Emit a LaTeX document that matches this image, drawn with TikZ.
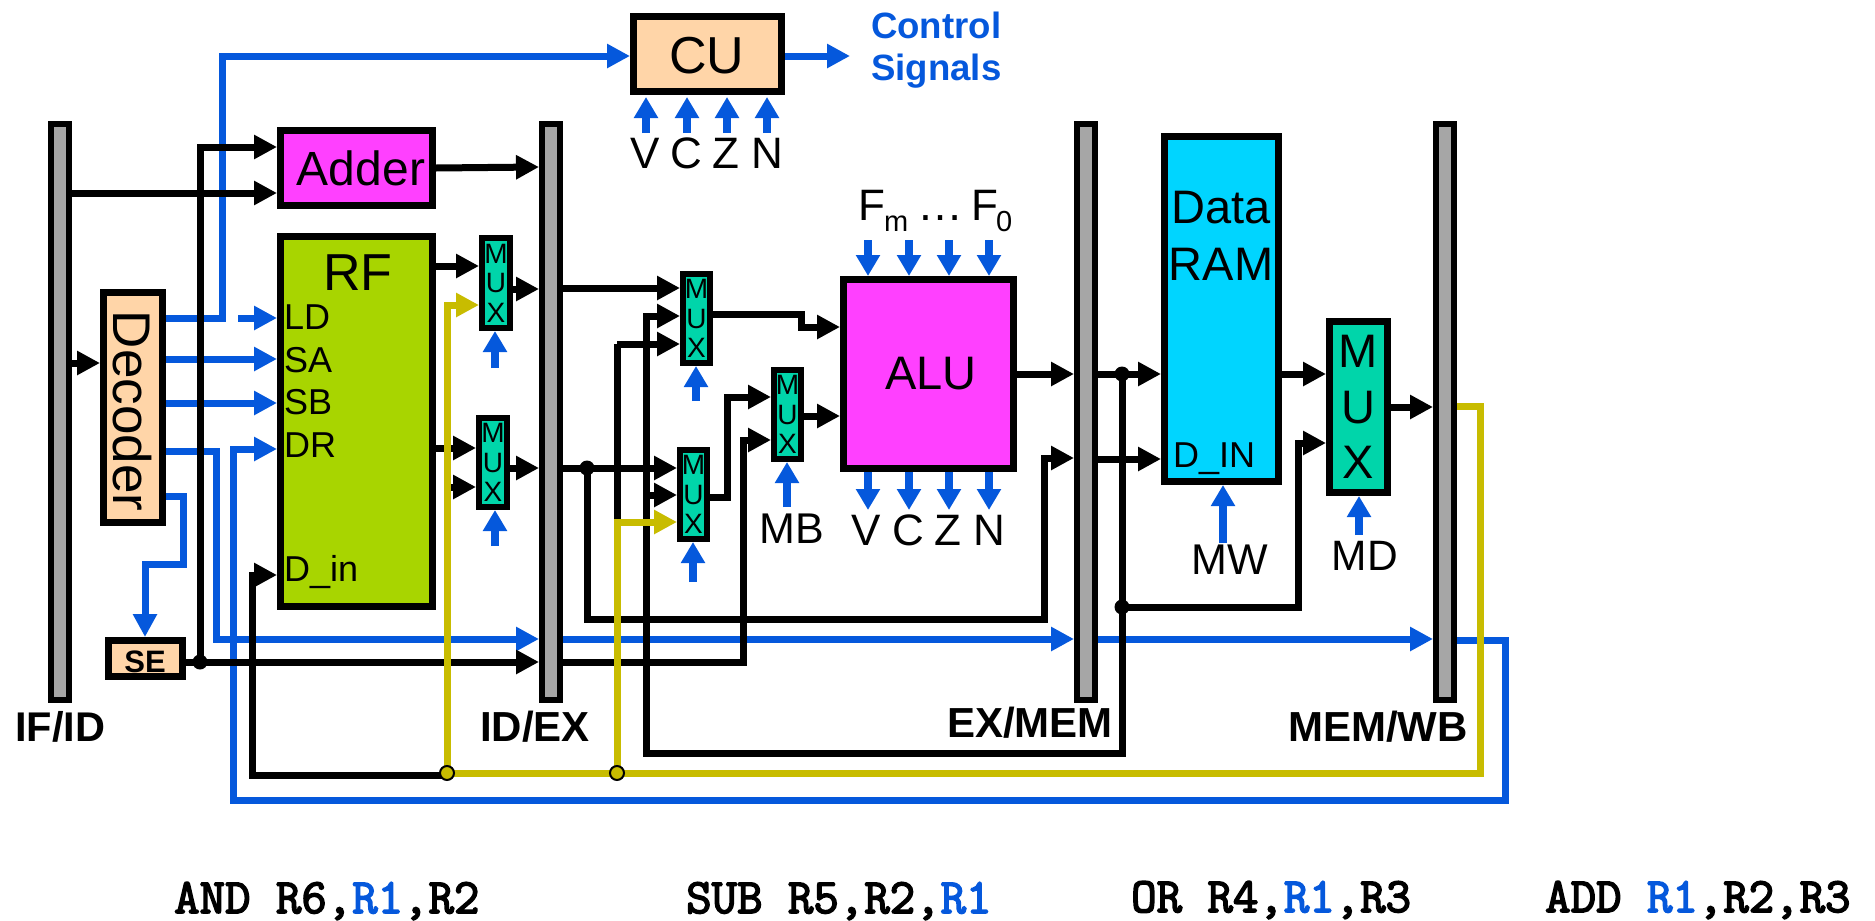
\documentclass[tikz,border=0pt]{standalone}
\usepackage{fontspec}
\setmainfont{Liberation Sans}
\newfontfamily\asmfont[FakeBold=3.2]{Latin Modern Mono}
\usetikzlibrary{arrows.meta}
\definecolor{cblue}{HTML}{0558DC}
\definecolor{cyel}{HTML}{C8BC00}
\definecolor{cpeach}{HTML}{FFD5A8}
\definecolor{cmag}{HTML}{FF40FF}
\definecolor{crf}{HTML}{A8D500}
\definecolor{ccyan}{HTML}{00D5FF}
\definecolor{cteal}{HTML}{00D5AA}
\definecolor{cgray}{HTML}{A6A6A6}
\newcommand{\fs}[1]{\fontsize{#1}{#1}\selectfont}
% name, x1,y1,x2,y2 (outer edges), line width, style, text
\newcommand{\blk}[8]{%
  \pgfmathsetmacro{\bcx}{(#2+#4)/2}\pgfmathsetmacro{\bcy}{(#3+#5)/2}%
  \pgfmathsetmacro{\bbw}{#4-#2-#6}\pgfmathsetmacro{\bbh}{#5-#3-#6}%
  \node[draw=black,line width=#6pt,inner sep=0pt,minimum width=\bbw pt,minimum height=\bbh pt,#7] (#1) at (\bcx,\bcy) {#8};}
% name, x, baseline y, size, text
\newcommand{\lbl}[5]{\node[anchor=base,inner sep=0pt,font=\fs{#4}] (#1) at (#2,#3) {#5};}
\newcommand{\lbw}[5]{\node[anchor=base west,inner sep=0pt,font=\fs{#4}] (#1) at (#2,#3) {#5};}
\newcommand{\asm}[4]{\node[anchor=base west,inner sep=0pt,font=\asmfont\fs{49.4}] (#1) at (#2,#3) {#4};}
\tikzset{
  x=1pt,y=-1pt,
  barbox/.style={fill=cgray},
  peach/.style={fill=cpeach},
  magbox/.style={fill=cmag},
  rfbox/.style={fill=crf},
  rambox/.style={fill=ccyan},
  muxbox/.style={fill=cteal,align=center,font=\fontsize{28}{29.5}\selectfont},
  muxbig/.style={fill=cteal,align=center,font=\fontsize{47}{55.5}\selectfont},
  wire/.style={line width=7pt,-{Triangle[length=23pt,width=23pt]}},
  wirep/.style={line width=7pt},
  bk/.style={wire,black},
  bl/.style={wire,cblue},
  ye/.style={wire,cyel},
  bkp/.style={wirep,black},
  blp/.style={wirep,cblue},
  yep/.style={wirep,cyel},
  ctl/.style={line width=7.5pt,cblue,-{Triangle[length=21pt,width=23pt]}},
  dot/.style={circle,fill=black,inner sep=0pt,minimum size=15pt},
  ydot/.style={circle,fill=cyel,draw=black,line width=2pt,inner sep=0pt,minimum size=14pt},
}
\begin{document}
\begin{tikzpicture}
\useasboundingbox (0,0) rectangle (1875,921);
% pipeline registers
\blk{ifid}{48}{121}{72}{703}{6}{barbox}{}
\blk{idex}{539}{121}{563}{703}{6}{barbox}{}
\blk{exmem}{1074}{121}{1098}{703}{6}{barbox}{}
\blk{memwb}{1433}{121}{1457}{703}{6}{barbox}{}
% blocks
\blk{cu}{630}{13}{785}{95}{7}{peach}{}
\blk{adder}{277}{127}{436}{209}{7}{magbox}{}
\blk{rf}{277}{233}{436}{610}{7}{rfbox}{}
\blk{decoder}{100}{289}{166}{526}{7}{peach}{}
\blk{se}{105}{637}{186}{680}{7}{peach}{}
\blk{alu}{840}{276}{1017}{472}{7}{magbox}{}
\blk{ram}{1161}{133}{1282}{485}{7}{rambox}{}
\blk{muxa}{479}{235}{513}{331}{6}{muxbox}{M\\U\\X}
\blk{muxb}{476}{415}{510}{510}{6}{muxbox}{M\\U\\X}
\blk{muxc}{680}{271}{713}{366}{6}{muxbox}{M\\U\\X}
\blk{muxd}{677}{447}{710}{542}{6}{muxbox}{M\\U\\X}
\blk{muxmb}{771}{367}{804}{462}{6}{muxbox}{M\\U\\X}
\blk{muxe}{1326}{318}{1391}{496}{7}{muxbig}{M\\U\\X}
% junctions and free ends
\node[dot] (jse) at (200,662) {};
\node[dot] (jrs) at (587,468) {};
\node[dot] (jmem) at (1122,374) {};
\node[dot] (jwb) at (1122,607) {};
\coordinate (jya) at (447,773);
\coordinate (jyb) at (617,773);
\coordinate (ldstub) at (238,318);
\coordinate (rfbstub) at (450,487);
\coordinate (cua) at (646,133); \coordinate (cub) at (687,133);
\coordinate (cuc) at (727,133); \coordinate (cud) at (767,133);
\coordinate (fa) at (868,240); \coordinate (fb) at (909,240);
\coordinate (fc) at (949,240); \coordinate (fd) at (989,240);
\coordinate (fla) at (868,510); \coordinate (flb) at (909,510);
\coordinate (flc) at (949,510); \coordinate (fld) at (989,510);
\coordinate (csout) at (850,56);
\coordinate (sela) at (495,368); \coordinate (selb) at (495,546);
\coordinate (selc) at (696,401); \coordinate (seld) at (693,582);
\coordinate (selmb) at (787,507); \coordinate (selmw) at (1223,543);
\coordinate (selmd) at (1359,535);
% blue wires
\draw[bl] (decoder.east |- 0,318) -- (222,318) -- (222,56) -- (cu.west |- 0,56);
\draw[bl] (cu.east |- 0,56) -- (csout);
\draw[bl] (ldstub) -- (rf.west |- ldstub);
\draw[bl] (decoder.east |- 0,359) -- (rf.west |- 0,359);
\draw[bl] (decoder.east |- 0,403) -- (rf.west |- 0,403);
\draw[bl] (decoder.east |- 0,451) -- (216,451) -- (216,639) -- (idex.west |- 0,639);
\draw[bl] (idex.east |- 0,639) -- (exmem.west |- 0,639);
\draw[bl] (exmem.east |- 0,639) -- (memwb.west |- 0,639);
\draw[bl] (memwb.east |- 0,640) -- (1505,640) -- (1505,800) -- (233,800) -- (233,449) -- (rf.west |- 0,449);
\draw[bl] (decoder.east |- 0,496) -- (183,496) -- (183,564) -- (145,564) -- (145,637);
\foreach \c/\t in {cua/646,cub/687,cuc/727,cud/767} \draw[ctl] (\c) -- (\t,97);
\foreach \c in {fa,fb,fc,fd} \draw[ctl] (\c) -- (\c |- alu.north);
\foreach \c in {fla,flb,flc,fld} \draw[ctl] (\c |- alu.south) -- (\c);
\draw[ctl] (sela) -- (sela |- muxa.south);
\draw[ctl] (selb) -- (selb |- muxb.south);
\draw[ctl] (selc) -- (selc |- muxc.south);
\draw[ctl] (seld) -- (seld |- muxd.south);
\draw[ctl] (selmb) -- (selmb |- muxmb.south);
\draw[ctl] (selmw) -- (selmw |- ram.south);
\draw[ctl] (selmd) -- (selmd |- muxe.south);
% black wires
\draw[bk] (ifid.east |- 0,193) -- (adder.west |- 0,193);
\draw[bk] (jse.center) -- (200,147) -- (adder.west |- 0,147);
\draw[bk] (adder.east |- 0,168) -- (idex.west |- 0,167);
\draw[bk] (se.east |- jse) -- (idex.west |- jse);
\draw[bk] (idex.east |- jse) -- (743,662) -- (743,440) -- (muxmb.west |- 0,440);
\draw[bk] (ifid.east |- 0,363) -- (decoder.west |- 0,363);
\draw[bk] (rf.east |- 0,266) -- (muxa.west |- 0,266);
\draw[bk] (muxa.east |- 0,289) -- (idex.west |- 0,289);
\draw[bk] (rf.east |- 0,448) -- (muxb.west |- 0,448);
\draw[bk] (rfbstub) -- (muxb.west |- rfbstub);
\draw[bk] (muxb.east |- 0,468) -- (idex.west |- 0,468);
\draw[bk] (jya |- 0,775) -- (252,775) -- (252,575) -- (rf.west |- 0,575);
\draw[bk] (idex.east |- 0,288) -- (muxc.west |- 0,288);
\draw[bk] (jmem.center) -- (1122,753) -- (646,753) -- (646,316) -- (muxc.west |- 0,316);
\draw[bk] (646,495) -- (muxd.west |- 0,495);
\draw[bkp] (jyb) -- (617,344);
\draw[bk] (617,344) -- (muxc.west |- 0,344);
\draw[bk] (idex.east |- jrs) -- (muxd.west |- jrs);
\draw[bk] (jrs.center) -- (587,619) -- (1044,619) -- (1044,458) -- (exmem.west |- 0,458);
\draw[bk] (muxd.east |- 0,497) -- (727,497) -- (727,397) -- (muxmb.west |- 0,397);
\draw[bk] (muxc.east |- 0,314) -- (801,314) -- (801,327) -- (alu.west |- 0,327);
\draw[bk] (muxmb.east |- 0,416) -- (alu.west |- 0,416);
\draw[bk] (alu.east |- 0,374) -- (exmem.west |- 0,374);
\draw[bk] (exmem.east |- 0,374) -- (ram.west |- 0,374);
\draw[bk] (exmem.east |- 0,459) -- (ram.west |- 0,459);
\draw[bk] (ram.east |- 0,374) -- (muxe.west |- 0,374);
\draw[bk] (muxe.east |- 0,407) -- (memwb.west |- 0,407);
\draw[bk] (jwb.center) -- (1298,607) -- (1298,443) -- (muxe.west |- 0,443);
% yellow wires
\draw[yep] (memwb.east |- 0,406) -- (1480,406) -- (1480,773) -- (jya);
\draw[ye] (jya) -- (447,305) -- (muxa.west |- 0,305);
\draw[ye] (jyb) -- (617,522) -- (muxd.west |- 0,522);
\node[ydot] (dya) at (jya) {};
\node[ydot] (dyb) at (jyb) {};
% labels
\lbl{lcu}{707}{73}{52}{CU}
\lbl{ladd}{361}{185}{48}{Adder}
\lbl{lrf}{358}{290}{52}{RF}
\lbw{lld}{284}{329}{36}{LD}
\lbw{lsa}{284}{372}{36}{SA}
\lbw{lsb}{284}{414}{36}{SB}
\lbw{ldr}{284}{457}{36}{DR}
\lbw{ldin}{284}{581}{36}{D\_in}
\node[anchor=base,inner sep=0pt,font=\fs{53},rotate=-90] (ldec) at (113,411) {Decoder};
\lbl{lse}{145}{672}{31}{\bfseries SE}
\lbl{lalu}{931}{389}{47}{ALU}
\lbl{ldata}{1221}{223}{47}{Data}
\lbl{lram}{1221}{280}{47}{RAM}
\lbw{ldi}{1173}{467}{36}{D\_IN}
\lbl{lmb}{792}{543}{43}{MB}
\lbl{lmw}{1230}{574}{43}{MW}
\lbl{lmd}{1365}{570}{42.5}{MD}
\lbl{lcv}{645}{168}{44}{V}
\lbl{lcc}{686}{168}{44}{C}
\lbl{lcz}{726}{168}{44}{Z}
\lbl{lcn}{767}{168}{44}{N}
\lbl{lav}{866}{545}{44}{V}
\lbl{lac}{908}{545}{44}{C}
\lbl{laz}{948}{545}{44}{Z}
\lbl{lan}{989}{545}{44}{N}
\lbw{lfm}{858}{220}{44}{F}
\lbw{lfms}{884}{231}{29}{m}
\lbw{ldots}{917}{220}{46}{…}
\lbw{lf0}{971}{220}{44}{F}
\lbw{lf0s}{996}{231}{29}{0}
\lbw{lc1}{871}{38}{36.6}{\bfseries\color{cblue}Control}
\lbw{lc2}{871}{80}{36.6}{\bfseries\color{cblue}Signals}
\lbw{rif}{15}{741}{41.5}{\bfseries IF/ID}
\lbw{rid}{480}{741}{42}{\bfseries ID/EX}
\lbw{rex}{947}{737}{42}{\bfseries EX/MEM}
\lbw{rme}{1288}{741}{42}{\bfseries MEM/WB}
\asm{ia}{174}{913}{AND R6,{\color{cblue}R1},R2}
\asm{ib}{686}{913}{SUB R5,R2,{\color{cblue}R1}}
\asm{ic}{1131}{912}{OR R4,{\color{cblue}R1},R3}
\asm{id}{1545}{912}{ADD {\color{cblue}R1},R2,R3}
\end{tikzpicture}
\end{document}
